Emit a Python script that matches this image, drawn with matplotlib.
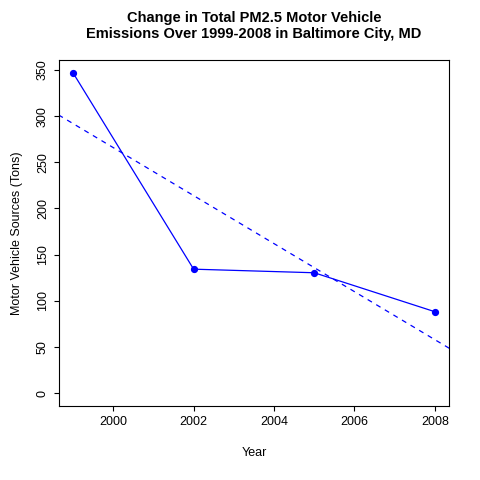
import numpy as np
import matplotlib
matplotlib.use("Agg")
import matplotlib.pyplot as plt

plt.rcParams['font.family'] = ['Liberation Sans', 'DejaVu Sans']

years = [1999, 2002, 2005, 2008]
emissions = [346.82, 134.31, 130.43, 88.28]

fig = plt.figure(figsize=(4.8, 4.8), dpi=100)
ax = fig.add_axes([0.122, 0.154, 0.814, 0.721])
ax.plot(years, emissions, color='blue', marker='o', markersize=4.2, linewidth=0.9)
slope, intercept = np.polyfit(years, emissions, 1)
ax.axline((years[0], slope * years[0] + intercept), slope=slope, color='blue',
          linestyle=(0, (4, 4)), linewidth=0.9)
ax.set_xlim(1998.64, 2008.36)
ax.set_ylim(-13.87, 360.7)
ax.set_xticks([2000, 2002, 2004, 2006, 2008])
ax.set_yticks(range(0, 351, 50))
ax.tick_params(labelsize=9)
for lbl in ax.get_yticklabels():
    lbl.set_rotation(90)
    lbl.set_va('center')
ax.set_xlabel('Year', fontsize=9, labelpad=14)
ax.set_ylabel('Motor Vehicle Sources (Tons)', fontsize=9, labelpad=10)
ax.set_title('Change in Total PM2.5 Motor Vehicle\nEmissions Over 1999-2008 in Baltimore City, MD',
             fontsize=10.5, fontweight='bold', pad=16)
fig.savefig('out.png', dpi=100)
